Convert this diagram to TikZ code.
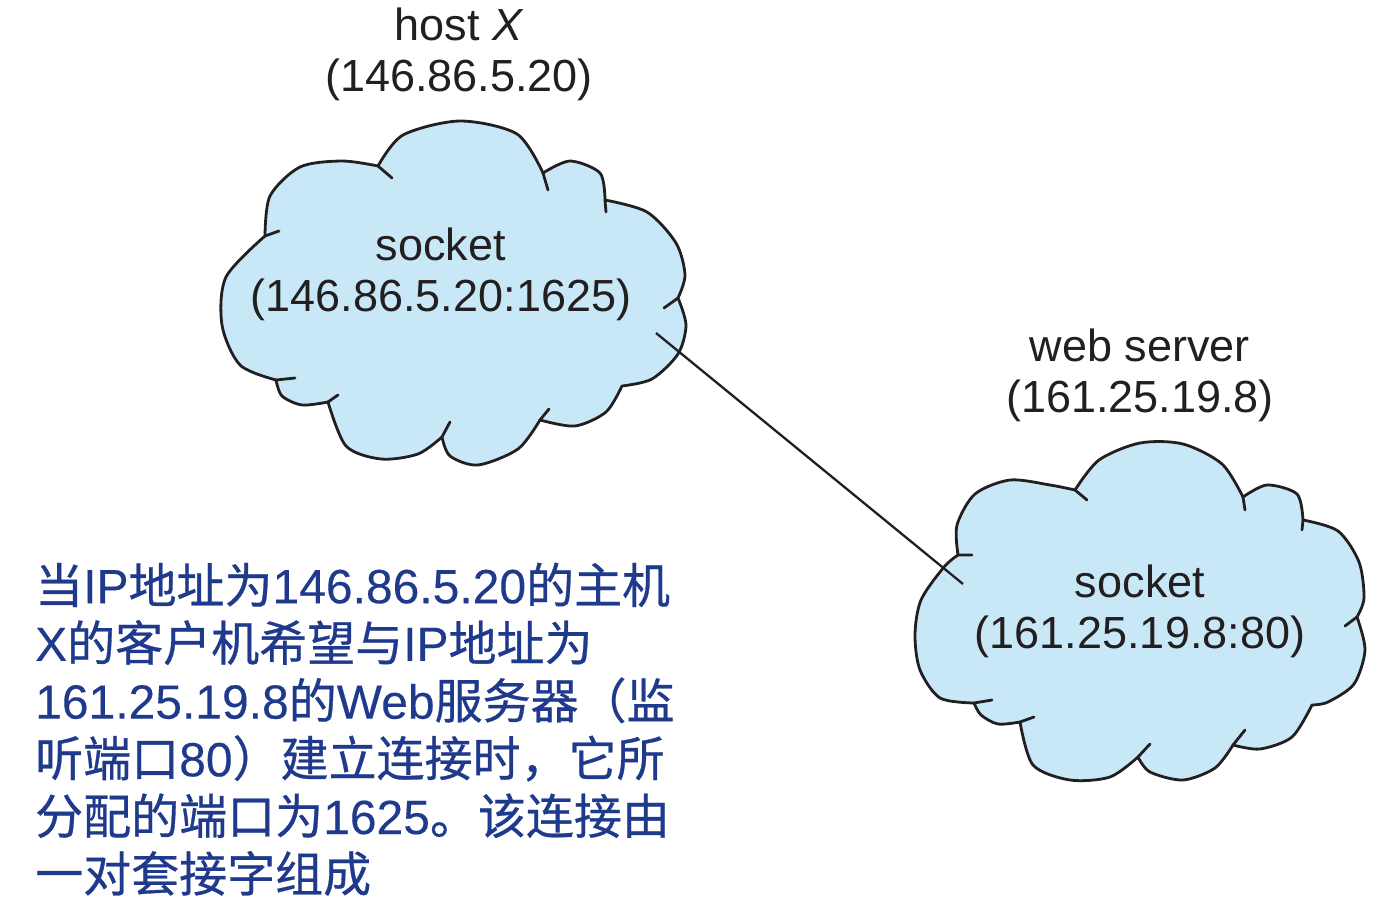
\documentclass[tikz,border=0pt]{standalone}
\usepackage{fontspec}
\setmainfont{Liberation Sans}
\newfontfamily\cjk[FakeBold=0.6]{Noto Sans CJK SC}
\newfontfamily\cnlatin[FakeBold=0.3]{Liberation Sans}
\definecolor{cloudfill}{RGB}{200,232,248}
\definecolor{ink}{RGB}{35,31,32}
\definecolor{cnblue}{RGB}{31,58,140}
\begin{document}
\begin{tikzpicture}[x=1pt,y=-1pt,
  cloud/.style={fill=cloudfill,draw=ink,line width=2.8pt,line join=round},
  tick/.style={draw=ink,line width=2.8pt,line cap=round},
  lbl/.style={font=\fontsize{45}{51}\selectfont,align=center,inner sep=0pt,anchor=north,text=ink},
  cn/.style={font=\cnlatin\fontsize{48}{57.7}\selectfont,align=left,inner sep=0pt,anchor=north west,text=cnblue},
  link/.style={draw=ink,line width=2.3pt}]
\useasboundingbox (0,0) rectangle (1393,910);

% cloud of host X
\filldraw[cloud] (265,236)
 -- plot[smooth] coordinates {(265,236) (270,196) (300,167) (342,161) (378,166)}
 -- plot[smooth] coordinates {(378,166) (403,135) (460,121) (517,134) (543,173)}
 -- plot[smooth] coordinates {(543,173) (570,161) (600,173) (605,200)}
 -- plot[smooth] coordinates {(605,200) (647,212) (676,243) (685,275) (678,298)}
 -- plot[smooth] coordinates {(678,298) (686,325) (678,354) (652,379) (622,386)}
 -- plot[smooth] coordinates {(622,386) (606,412) (575,426) (540,420)}
 -- plot[smooth] coordinates {(540,420) (518,449) (478,465) (450,456) (442,437)}
 -- plot[smooth] coordinates {(442,437) (418,454) (381,459) (346,446) (328,402)}
 -- plot[smooth] coordinates {(328,402) (302,405) (282,396) (276,380)}
 -- plot[smooth] coordinates {(276,380) (240,365) (222,325) (226,277) (265,236)}
 -- cycle;
\draw[tick] (378,166)--(392,178) (543,173)--(548,190) (605,200)--(606,212)
  (678,298)--(664,308) (540,420)--(549,409) (442,437)--(450,422)
  (328,402)--(338,395) (276,380)--(295,378) (265,236)--(279,231);

% cloud of web server
\filldraw[cloud] (958,555)
 -- plot[smooth] coordinates {(958,555) (957,525) (975,494) (1010,480) (1050,485) (1075,490)}
 -- plot[smooth] coordinates {(1075,490) (1099,460) (1140,443) (1183,444) (1222,464) (1243,497)}
 -- plot[smooth] coordinates {(1243,497) (1267,485) (1297,494) (1303,520)}
 -- plot[smooth] coordinates {(1303,520) (1338,531) (1359,562) (1364,598) (1357,617)}
 -- plot[smooth] coordinates {(1357,617) (1365,650) (1354,684) (1328,702) (1312,705)}
 -- plot[smooth] coordinates {(1312,705) (1292,737) (1260,749) (1233,745)}
 -- plot[smooth] coordinates {(1233,745) (1215,768) (1183,780) (1150,772) (1138,757)}
 -- plot[smooth] coordinates {(1138,757) (1110,777) (1070,780) (1033,765) (1020,722)}
 -- plot[smooth] coordinates {(1020,722) (998,724) (981,715) (974,703)}
 -- plot[smooth] coordinates {(974,703) (940,698) (920,670) (915,635) (921,600) (944,567) (958,555)}
 -- cycle;
\draw[tick] (1075,490)--(1087,500) (1243,497)--(1245,510) (1303,520)--(1302,530)
  (1357,617)--(1345,626) (1233,745)--(1245,730) (1138,757)--(1150,744)
  (1020,722)--(1034,717) (974,703)--(992,700) (958,555)--(972,555);

% connector
\coordinate (endA) at (656,333);
\coordinate (endB) at (963,584);
\draw[link] (endA) -- (endB);

% labels
\node[lbl] (hostX) at (459,4) {\rule{0pt}{36pt}host \textit{X}\\(146.86.5.20)};
\node[lbl] (sockA) at (441,224) {\rule{0pt}{36pt}socket\\(146.86.5.20:1625)};
\node[lbl] (web) at (1140,325) {\rule{0pt}{36pt}web server\\(161.25.19.8)};
\node[lbl] (sockB) at (1140,561) {\rule{0pt}{36pt}socket\\(161.25.19.8:80)};

% description
\node[cn] (desc) at (35,561) {\rule{0pt}{42pt}{\cjk 当}IP{\cjk 地址为}146.86.5.20{\cjk 的主机}\\
X{\cjk 的客户机希望与}IP{\cjk 地址为}\\
161.25.19.8{\cjk 的}Web{\cjk 服务器（监}\\
{\cjk 听端口}80{\cjk ）建立连接时，它所}\\
{\cjk 分配的端口为}1625{\cjk 。该连接由}\\
{\cjk 一对套接字组成}};
\end{tikzpicture}
\end{document}
